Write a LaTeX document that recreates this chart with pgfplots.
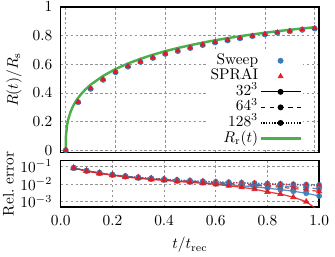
\documentclass[border=0pt]{standalone}
\usepackage{pgfplots}
\pgfplotsset{compat=1.18}
\definecolor{cblue}{RGB}{55,126,184}
\definecolor{cred}{RGB}{228,26,28}
\definecolor{cgreen}{RGB}{77,175,74}
\begin{document}
\begin{tikzpicture}
\pgfplotsset{
  every axis/.append style={
    scale only axis, width=168pt,
    axis line style={line width=0.9pt},
    grid=major,
    grid style={gray!85, line width=0.45pt, dash pattern=on 1.6pt off 1.6pt},
    major tick length=0pt, minor tick length=0pt,
    yticklabel style={xshift=-2pt},
  }
}
% ---------------- bottom panel: relative error ----------------
\begin{axis}[name=bot, height=30.2pt, ymode=log,
  xmin=0, xmax=1, ymin=5e-4, ymax=0.21,
  xtick={0,0.2,0.4,0.6,0.8,1}, ytick={1e-3,1e-2,1e-1},
  xticklabel style={yshift=-2pt,/pgf/number format/.cd, fixed, fixed zerofill, precision=1},
  xlabel={$t/t_\mathrm{rec}$}, ylabel={Rel.\ error},
  xlabel style={at={(axis description cs:0.5,-0.82)}, anchor=center},
  ylabel style={at={(axis description cs:-0.202,0.5)}, anchor=center},
]
% 128^3 dotted
\addplot[cblue, opacity=0.85, line width=0.8pt, densely dotted, mark=*, mark size=1.5pt, mark options={solid}] coordinates {
(0.05,0.082)(0.10,0.057)(0.15,0.043)(0.20,0.034)(0.25,0.028)(0.30,0.024)(0.35,0.021)(0.40,0.019)(0.45,0.017)(0.50,0.0155)
(0.55,0.0143)(0.60,0.0133)(0.65,0.0125)(0.70,0.0118)(0.75,0.0112)(0.80,0.0106)(0.85,0.0101)(0.90,0.0097)(0.95,0.0093)(1.00,0.0090)};
\addplot[cred, opacity=0.85, line width=0.8pt, densely dotted, mark=triangle*, mark size=1.7pt, mark options={solid}] coordinates {
(0.05,0.080)(0.10,0.055)(0.15,0.042)(0.20,0.033)(0.25,0.027)(0.30,0.0235)(0.35,0.0205)(0.40,0.0185)(0.45,0.0165)(0.50,0.0150)
(0.55,0.0138)(0.60,0.0128)(0.65,0.0120)(0.70,0.0113)(0.75,0.0106)(0.80,0.0100)(0.85,0.0094)(0.90,0.0089)(0.95,0.0084)(1.00,0.0080)};
% 64^3 dashed
\addplot[cblue, opacity=0.85, line width=0.8pt, dashed, mark=*, mark size=1.5pt, mark options={solid}] coordinates {
(0.05,0.081)(0.10,0.056)(0.15,0.042)(0.20,0.033)(0.25,0.027)(0.30,0.023)(0.35,0.020)(0.40,0.018)(0.45,0.016)(0.50,0.0145)
(0.55,0.0132)(0.60,0.0121)(0.65,0.0111)(0.70,0.0102)(0.75,0.0093)(0.80,0.0085)(0.85,0.0077)(0.90,0.0069)(0.95,0.0061)(1.00,0.0053)};
\addplot[cred, opacity=0.85, line width=0.8pt, dashed, mark=triangle*, mark size=1.7pt, mark options={solid}] coordinates {
(0.05,0.079)(0.10,0.054)(0.15,0.041)(0.20,0.032)(0.25,0.026)(0.30,0.0225)(0.35,0.0195)(0.40,0.0175)(0.45,0.0155)(0.50,0.0140)
(0.55,0.0126)(0.60,0.0114)(0.65,0.0103)(0.70,0.0093)(0.75,0.0083)(0.80,0.0074)(0.85,0.0065)(0.90,0.0056)(0.95,0.0047)(1.00,0.0038)};
% 32^3 solid
\addplot[cblue, opacity=0.85, line width=0.8pt, mark=*, mark size=1.5pt] coordinates {
(0.05,0.080)(0.10,0.055)(0.15,0.041)(0.20,0.032)(0.25,0.026)(0.30,0.022)(0.35,0.019)(0.40,0.017)(0.45,0.015)(0.50,0.0133)
(0.55,0.0118)(0.60,0.0104)(0.65,0.0091)(0.70,0.0079)(0.75,0.0068)(0.80,0.0058)(0.85,0.0048)(0.90,0.0039)(0.95,0.0030)(1.00,0.0021)};
\addplot[cred, opacity=0.85, line width=0.8pt, mark=triangle*, mark size=1.7pt] coordinates {
(0.05,0.078)(0.10,0.053)(0.15,0.040)(0.20,0.031)(0.25,0.025)(0.30,0.021)(0.35,0.018)(0.40,0.016)(0.45,0.014)(0.50,0.0123)
(0.55,0.0110)(0.60,0.0094)(0.65,0.0079)(0.70,0.0065)(0.75,0.0051)(0.80,0.0036)(0.85,0.0027)(0.90,0.0018)(0.95,0.0010)(1.00,0.0003)};
\end{axis}
% ---------------- top panel: radius ----------------
\begin{axis}[name=top, at={(bot.north west)}, anchor=south west, yshift=5.3pt,
  height=94.6pt,
  xmin=-0.02, xmax=1.018, ymin=-0.016, ymax=1,
  xtick={0,0.2,0.4,0.6,0.8,1}, xticklabels={},
  ytick={0,0.2,0.4,0.6,0.8,1},
  ylabel={$R(t)/R_\mathrm{s}$},
  ylabel style={at={(axis description cs:-0.181,0.5)}, anchor=center},
  legend style={draw=none, fill=white, inner sep=1pt, at={(0.94,0.03)}, anchor=south east,
    legend cell align=right, row sep=0pt,
    nodes={inner sep=0.8pt, text height=6.6pt, text depth=1.9pt}},
  legend plot pos=right,
  legend image code/.code={\draw[mark repeat=2,mark phase=2,#1] plot coordinates {(0pt,0pt)(13pt,0pt)(26pt,0pt)};},
]
\addplot[cgreen, line width=1.6pt, forget plot] coordinates {
(0,0)(0.001,0.0999)(0.005,0.1709)(0.01,0.2150)(0.02,0.2705)(0.03,0.3093)(0.04,0.3398)(0.05,0.3653)(0.06,0.3877)(0.08,0.4252)
(0.10,0.4566)(0.15,0.5183)(0.20,0.5662)(0.25,0.6048)(0.30,0.6377)(0.35,0.6660)(0.40,0.6909)(0.45,0.7128)(0.50,0.7326)
(0.55,0.7507)(0.60,0.7670)(0.65,0.7820)(0.70,0.7955)(0.75,0.8081)(0.80,0.8197)(0.85,0.8304)(0.90,0.8404)(0.95,0.8495)(1.00,0.8582)};
\addplot[cblue, only marks, mark=*, mark size=1.7pt, mark options={draw=none, fill=cblue}] coordinates {
(0,0)(0.05,0.335)(0.10,0.428)(0.15,0.491)(0.20,0.544)(0.25,0.583)(0.30,0.616)(0.35,0.644)(0.40,0.672)(0.45,0.692)(0.50,0.713)
(0.55,0.734)(0.60,0.752)(0.65,0.766)(0.70,0.781)(0.75,0.796)(0.80,0.808)(0.85,0.820)(0.90,0.830)(0.95,0.840)(1.00,0.849)};
\addlegendentry{Sweep}
\addplot[cred, only marks, mark=triangle*, mark size=1.8pt, mark options={draw=none, fill=cred}] coordinates {
(0,0)(0.05,0.337)(0.10,0.430)(0.15,0.493)(0.20,0.546)(0.25,0.585)(0.30,0.618)(0.35,0.646)(0.40,0.674)(0.45,0.694)(0.50,0.715)
(0.55,0.736)(0.60,0.754)(0.65,0.768)(0.70,0.783)(0.75,0.798)(0.80,0.810)(0.85,0.822)(0.90,0.832)(0.95,0.842)(1.00,0.851)};
\addlegendentry{SPRAI}
\addlegendimage{black, line width=0.8pt, mark=*, mark size=1.5pt}
\addlegendentry{$32^3$}
\addlegendimage{black, line width=0.8pt, dashed, mark=*, mark size=1.5pt, mark options={solid}}
\addlegendentry{$64^3$}
\addlegendimage{black, line width=0.8pt, densely dotted, mark=*, mark size=1.5pt, mark options={solid}}
\addlegendentry{$128^3$}
\addlegendimage{cgreen, line width=1.6pt}
\addlegendentry{$R_\mathrm{r}(t)$}
\end{axis}
\pgfresetboundingbox
\path[use as bounding box] ([shift={(-39.5pt,-31.9pt)}]bot.south west) rectangle ([shift={(178.3pt,134.6pt)}]bot.south west);
\end{tikzpicture}
\end{document}
